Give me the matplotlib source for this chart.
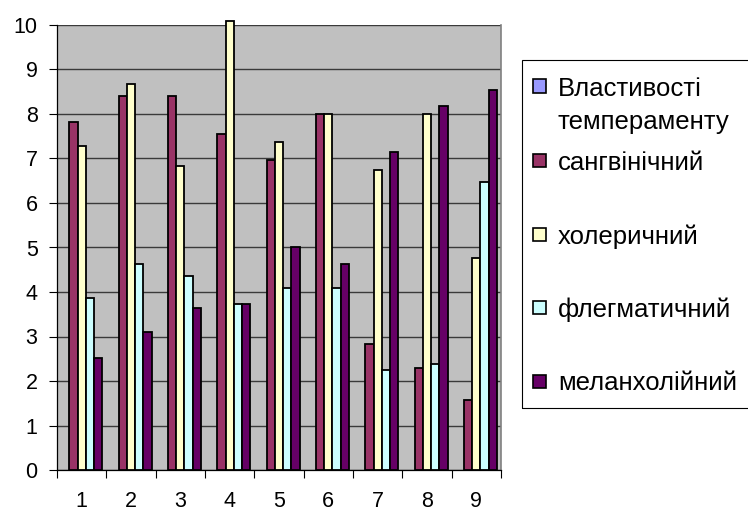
import numpy as np
import matplotlib
matplotlib.use("Agg")
import matplotlib.pyplot as plt
from matplotlib.patches import Rectangle

plt.rcParams['font.family'] = ['Liberation Sans', 'DejaVu Sans']

categories = ['1', '2', '3', '4', '5', '6', '7', '8', '9']
series_names = ['Властивості\nтемпераменту', 'сангвінічний', 'холеричний',
                'флегматичний', 'меланхолійний']
vlastyvosti = [0, 0, 0, 0, 0, 0, 0, 0, 0]
sangvinichnyi = [7.81, 8.40, 8.40, 7.56, 6.97, 8.00, 2.84, 2.30, 1.57]
cholerychnyi = [7.29, 8.68, 6.84, 10.1, 7.38, 8.00, 6.74, 8.00, 4.77]
flegmatychnyi = [3.87, 4.64, 4.37, 3.74, 4.10, 4.10, 2.25, 2.38, 6.48]
melancholiinyi = [2.52, 3.11, 3.65, 3.74, 5.00, 4.64, 7.15, 8.18, 8.55]
colors = ['#9999FF', '#993366', '#FFFFCC', '#CCFFFF', '#660066']

W, H = 748, 514
fig = plt.figure(figsize=(W / 100, H / 100), dpi=100)
ax = fig.add_axes([57 / W, (H - 470) / H, (501 - 57) / W, (470 - 25) / H])
ax.set_facecolor('#C0C0C0')

data = [vlastyvosti, sangvinichnyi, cholerychnyi, flegmatychnyi, melancholiinyi]
x = np.arange(len(categories))
w = 1 / 6
for i, vals in enumerate(data):
    lw = 0 if max(vals) == 0 else 1.3
    ax.bar(x + (i - 2) * w, vals, w, color=colors[i], edgecolor='black',
           linewidth=lw, zorder=3, clip_on=False)

ax.set_xlim(-0.5, len(categories) - 0.5)
ax.set_ylim(0, 10)
ax.set_yticks(range(0, 11))
ax.yaxis.grid(True, color='#3a3a3a', linewidth=1.0, zorder=1)
ax.tick_params(axis='y', length=6, width=0.8, pad=8, labelsize=15.5)

ax.set_xticks(np.arange(-0.5, len(categories)), labels=[])
ax.set_xticks(x, labels=categories, minor=True)
ax.tick_params(axis='x', which='major', length=6, width=0.8)
ax.tick_params(axis='x', which='minor', length=0, pad=15, labelsize=15.5)

ax.spines['top'].set_visible(False)
ax.spines['right'].set_color('#808080')
ax.spines['right'].set_linewidth(1.2)
ax.spines['left'].set_linewidth(0.9)
ax.spines['bottom'].set_linewidth(0.9)

# legend box, drawn by hand (uneven row spacing)
fig.patches.append(Rectangle((522 / W, (H - 408) / H), 240 / W, (408 - 60) / H,
                             transform=fig.transFigure, fill=False,
                             edgecolor='black', linewidth=0.8))
rows = [86, 160, 234, 307, 381]
for i, name in enumerate(series_names):
    yc = rows[i]
    fig.patches.append(Rectangle((533 / W, (H - yc - 6.5) / H), 13 / W, 13 / H,
                                 transform=fig.transFigure, facecolor=colors[i],
                                 edgecolor='black', linewidth=1.2))
    for j, line in enumerate(name.split('\n')):
        fig.text(558 / W, (H - yc - 34 * j) / H, line, fontsize=18.5,
                 va='center_baseline', ha='left')

fig.savefig('out.png', dpi=100)
